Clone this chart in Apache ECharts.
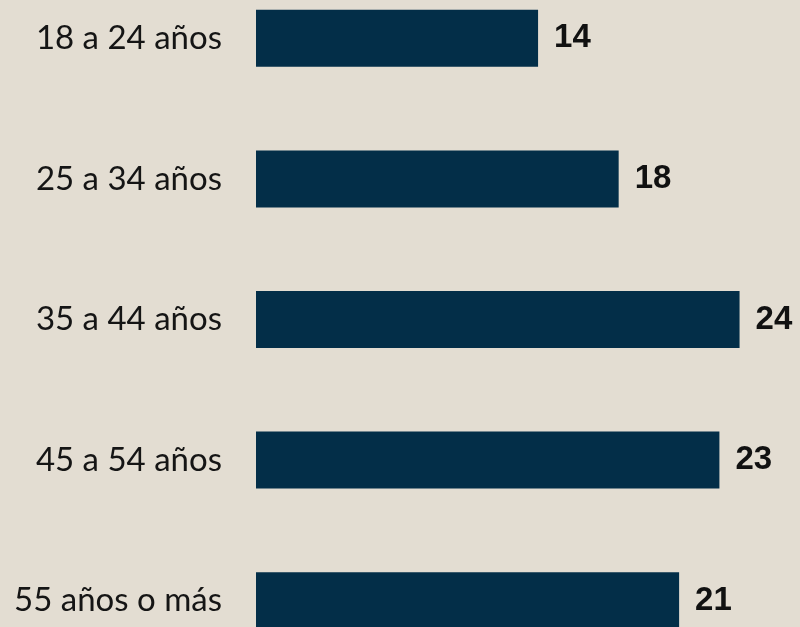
<!DOCTYPE html>
<html>
<head>
<meta charset="utf-8">
<script src="https://cdn.jsdelivr.net/npm/echarts@6/dist/echarts.min.js"></script>
<style>
  html, body { margin: 0; padding: 0; background: #e3ddd2; overflow: hidden; }
  #chart { width: 800px; height: 703px; margin-top: -32px; }
</style>
</head>
<body>
<div id="chart"></div>
<script>
  // grupos de edad, de arriba hacia abajo
  var categories = ['18 a 24 años', '25 a 34 años', '35 a 44 años', '45 a 54 años', '55 años o más']
  var values = [14, 18, 24, 23, 21]

  var chart = echarts.init(document.getElementById('chart'))
  chart.setOption({
    backgroundColor: '#e3ddd2',
    animation: false,
    grid: {
      left: 256,
      right: 0,
      top: 0,
      bottom: 0
    },
    xAxis: {
      type: 'value',
      min: 0,
      max: 27,
      show: false
    },
    yAxis: {
      type: 'category',
      data: categories,
      inverse: true,
      axisLine: { show: false },
      axisTick: { show: false },
      axisLabel: {
        margin: 34,
        fontFamily: 'Lato',
        fontSize: 33,
        color: '#151515',
        padding: [0, 0, 13, 0]
      }
    },
    series: [
      {
        type: 'bar',
        data: values,
        barWidth: 57,
        itemStyle: { color: '#032e48' },
        label: {
          show: true,
          position: 'right',
          distance: 16,
          fontFamily: 'Liberation Sans',
          fontWeight: 'bold',
          fontSize: 33,
          color: '#111111',
          padding: [3, 0, 0, 0]
        }
      }
    ]
  })
</script>
</body>
</html>
